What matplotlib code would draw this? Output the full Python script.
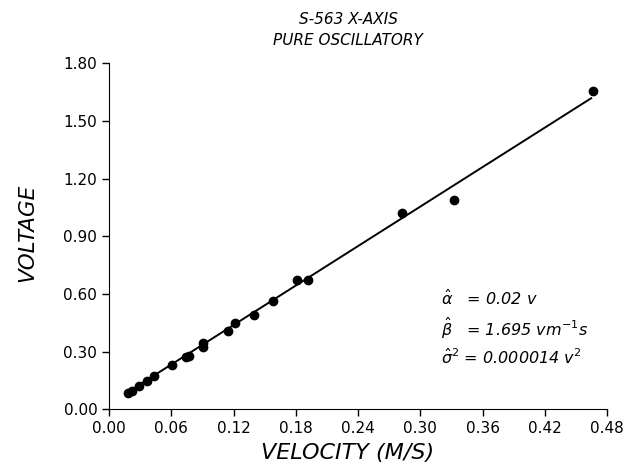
import matplotlib
matplotlib.use('Agg')
from matplotlib import pyplot as plt

velocity = [0.0185, 0.0217, 0.0290, 0.0362, 0.0435, 0.0603, 0.0741, 0.0773,
            0.0902, 0.0908, 0.1149, 0.1216, 0.1400, 0.1583, 0.1809, 0.1921,
            0.2821, 0.3329, 0.4664]
voltage = [0.083, 0.095, 0.123, 0.149, 0.175, 0.232, 0.271, 0.279,
           0.343, 0.325, 0.406, 0.451, 0.491, 0.564, 0.670, 0.673,
           1.021, 1.086, 1.658]

# fitted line end points
fit_x = [0.0162, 0.4647]
fit_y = [0.083, 1.618]

xticks = [0.00, 0.06, 0.12, 0.18, 0.24, 0.30, 0.36, 0.42, 0.48]
yticks = [0.00, 0.30, 0.60, 0.90, 1.20, 1.50, 1.80]

plt.rcParams['font.family'] = ['DejaVu Sans']
plt.rcParams['mathtext.default'] = 'it'

fig = plt.figure(figsize=(6.31, 4.72), dpi=100)
ax = fig.add_axes([0.173, 0.133, 0.789, 0.733])

ax.plot(fit_x, fit_y, color='black', lw=1.4)
ax.plot(velocity, voltage, 'o', color='black', ms=6)

ax.set_xlim(0, 0.48)
ax.set_ylim(0, 1.80)
ax.set_xticks(xticks)
ax.set_yticks(yticks)
ax.set_xticklabels([f'{t:.2f}' for t in xticks], fontsize=11)
ax.set_yticklabels([f'{t:.2f}' for t in yticks], fontsize=11)
ax.tick_params(direction='out', length=5, width=1)
ax.spines['top'].set_visible(False)
ax.spines['right'].set_visible(False)

ax.set_xlabel('VELOCITY (M/S)', fontsize=16, style='italic')
ax.xaxis.set_label_coords(0.478, -0.098)
ax.set_ylabel('VOLTAGE', fontsize=15.5, style='italic')
ax.yaxis.set_label_coords(-0.145, 0.51)

fig.text(0.552, 0.958, 'S-563 X-AXIS', ha='center', va='center',
         fontsize=11, style='italic')
fig.text(0.552, 0.914, 'PURE OSCILLATORY', ha='center', va='center',
         fontsize=11, style='italic')

ax.text(0.32, 0.575, r'$\hat{\alpha}$   = 0.02 v', fontsize=11.5, style='italic', va='center')
ax.text(0.32, 0.42, r'$\hat{\beta}$   = 1.695 vm$^{-1}$s', fontsize=11.5, style='italic', va='center')
ax.text(0.32, 0.27, r'$\hat{\sigma}^2$ = 0.000014 v$^2$', fontsize=11.5, style='italic', va='center')

fig.savefig('out.png', dpi=100)
